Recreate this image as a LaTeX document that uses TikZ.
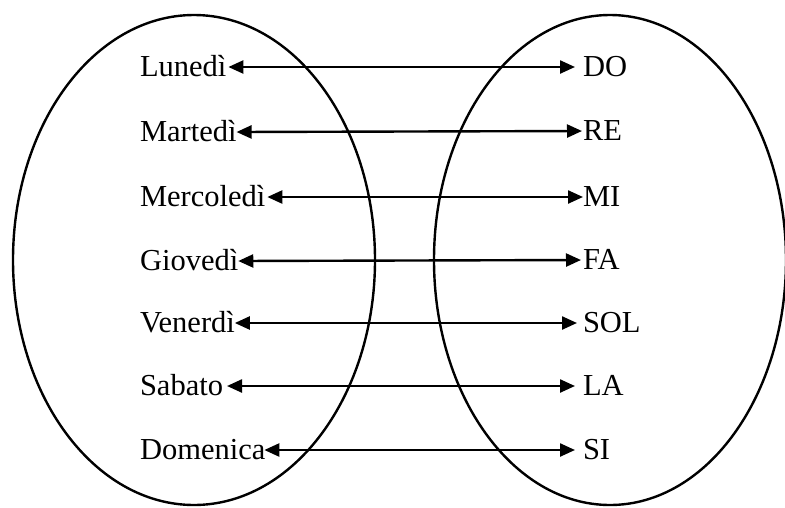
\documentclass[tikz,border=0pt]{standalone}
\usepackage{fontspec}
\setmainfont{Liberation Serif}
\usetikzlibrary{arrows.meta}
\begin{document}
\begin{tikzpicture}[x=1pt,y=-1pt,
  lbl/.style={inner sep=0pt,outer sep=0pt,font=\fontsize{30.5pt}{36pt}\selectfont},
  lft/.style={lbl,anchor=base west},
  rgt/.style={lbl,anchor=base west},
  link/.style={line width=2.4pt,{Triangle[length=15pt,width=13pt]}-{Triangle[length=15pt,width=13pt]}},
  ring/.style={line width=2.4pt}]
\useasboundingbox (0,0) rectangle (785,507);
\draw[ring] (194,260) ellipse [x radius=181pt, y radius=245pt];
\draw[ring] (610,260) ellipse [x radius=176pt, y radius=245pt];
% left labels
\node[lft] (L1) at (140,76) {Lunedì};
\node[lft] (L2) at (140,141) {Martedì};
\node[lft] (L3) at (140,206) {Mercoledì};
\node[lft] (L4) at (140,270) {Giovedì};
\node[lft] (L5) at (140,332) {Venerdì};
\node[lft] (L6) at (140,395) {Sabato};
\node[lft] (L7) at (140,459) {Domenica};
% right labels
\node[rgt] (R1) at (583,76) {DO};
\node[rgt] (R2) at (583,140) {RE};
\node[rgt] (R3) at (583,206) {MI};
\node[rgt] (R4) at (583,269) {FA};
\node[rgt] (R5) at (583,332) {SOL};
\node[rgt] (R6) at (583,395) {LA};
\node[rgt] (R7) at (583,459) {SI};
% connectors
\draw[link] ([xshift=2pt,yshift=9pt]L1.base east) -- ([xshift=-8pt,yshift=9pt]R1.base west);
\draw[link] ([xshift=0pt,yshift=9pt]L2.base east) -- ([xshift=-1pt,yshift=9pt]R2.base west);
\draw[link] ([xshift=2pt,yshift=9pt]L3.base east) -- ([xshift=0pt,yshift=9pt]R3.base west);
\draw[link] ([xshift=0pt,yshift=9pt]L4.base east) -- ([xshift=-2pt,yshift=9pt]R4.base west);
\draw[link] ([xshift=0pt,yshift=9pt]L5.base east) -- ([xshift=-6pt,yshift=9pt]R5.base west);
\draw[link] ([xshift=4pt,yshift=9pt]L6.base east) -- ([xshift=-8pt,yshift=9pt]R6.base west);
\draw[link] ([xshift=-1pt,yshift=9pt]L7.base east) -- ([xshift=-8pt,yshift=9pt]R7.base west);
\end{tikzpicture}
\end{document}
